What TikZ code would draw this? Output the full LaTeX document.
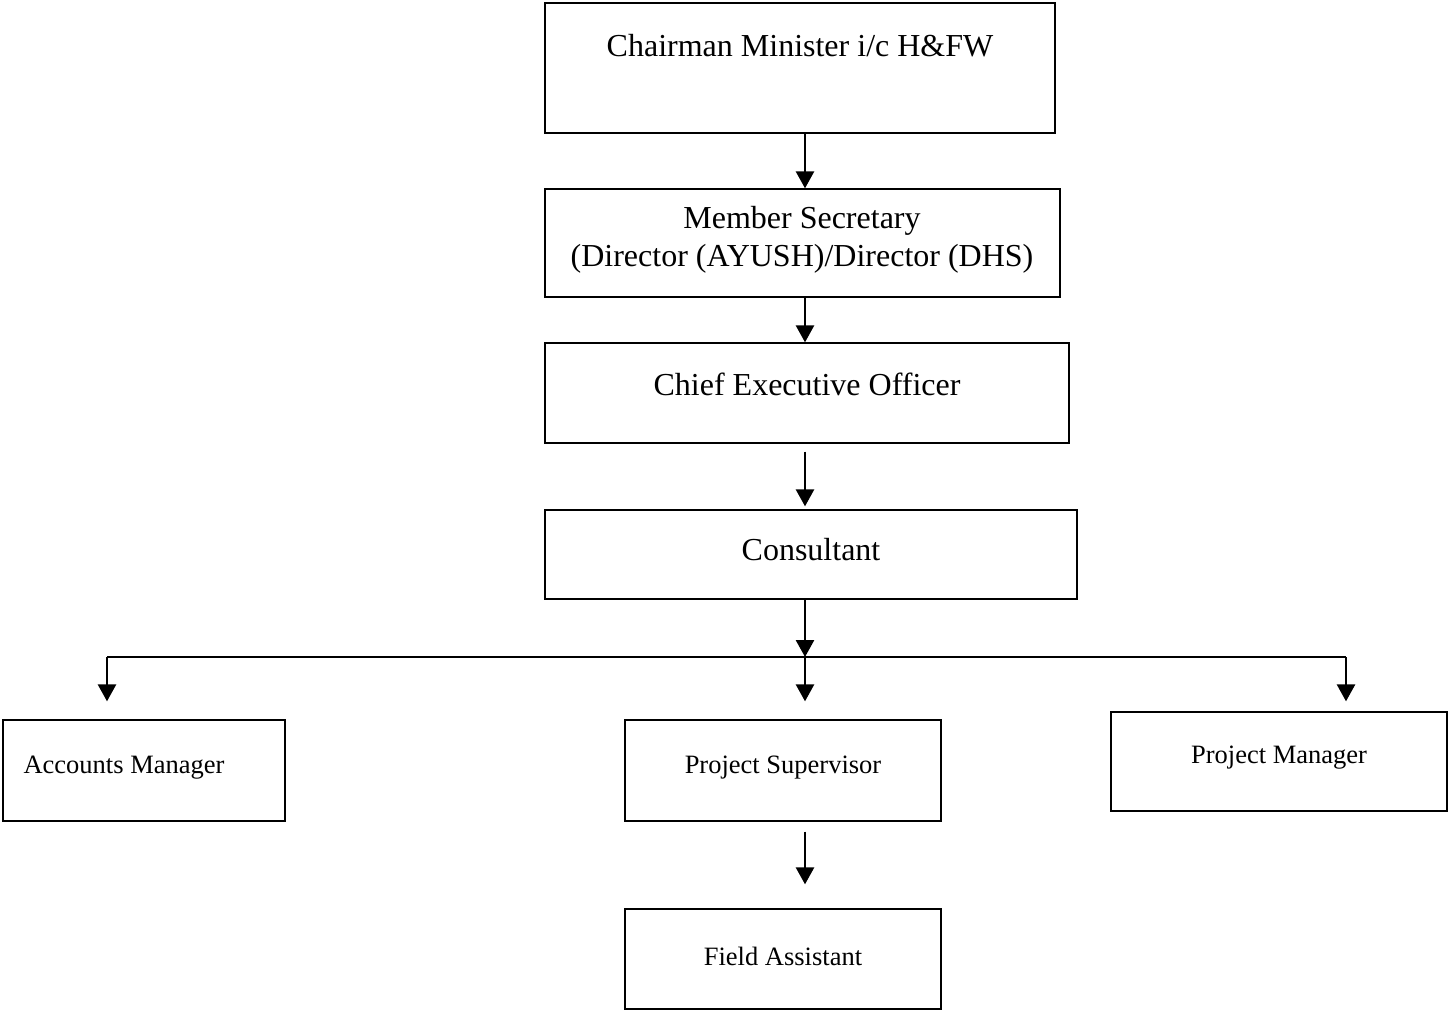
\documentclass[tikz,border=0pt]{standalone}
\usepackage{fontspec}
\setmainfont{Liberation Serif}
\usetikzlibrary{arrows.meta,positioning}

\tikzset{
  orgbox/.style={draw, line width=1.3pt, inner sep=0pt},
  bigtxt/.style={font=\fontsize{32}{38}\selectfont, align=center, inner sep=0pt},
  smalltxt/.style={font=\fontsize{26.5}{32}\selectfont, inner sep=0pt},
  link/.style={line width=2.7pt, -{Triangle[width=18pt,length=17pt]}}
}

\begin{document}
\begin{tikzpicture}[x=1pt,y=-1pt]
  \useasboundingbox (0,0) rectangle (1448,1011);

  % boxes
  \node[orgbox, minimum width=510pt, minimum height=130pt] (chair) at (800,68) {};
  \node[orgbox, minimum width=515pt, minimum height=108pt] (member) at (802.5,243) {};
  \node[orgbox, minimum width=524pt, minimum height=100pt] (ceo) at (807,393) {};
  \node[orgbox, minimum width=532pt, minimum height=89pt] (cons) at (811,554.5) {};
  \node[orgbox, minimum width=282pt, minimum height=101pt] (acct) at (144,770.5) {};
  \node[orgbox, minimum width=316pt, minimum height=101pt] (psup) at (783,770.5) {};
  \node[orgbox, minimum width=336pt, minimum height=99pt] (pman) at (1279,761.5) {};
  \node[orgbox, minimum width=316pt, minimum height=100pt] (field) at (783,959) {};

  % texts
  \node[bigtxt] (chairT) at (800,46) {Chairman Minister i/c H\&FW};
  \node[bigtxt] (memT) at (802,240) {Member Secretary\\(Director (AYUSH)/Director (DHS)};
  \node[bigtxt] (ceoT) at (807,384) {Chief Executive Officer};
  \node[bigtxt] (consT) at (811,550) {Consultant};
  \node[smalltxt] (acctT) at (124,768) {Accounts Manager};
  \node[smalltxt] (psupT) at (783,768) {Project Supervisor};
  \node[smalltxt] (pmanT) at (1279,758) {Project Manager};
  \node[smalltxt] (fieldT) at (783,956) {Field Assistant};

  % spine and bus
  \coordinate (spine) at (805,0);
  \coordinate (busL) at (107,657);
  \coordinate (busM) at (805,657);
  \coordinate (busR) at (1346,657);

  \draw[link] (chair.south -| spine) -- (member.north -| spine);
  \draw[link] (member.south -| spine) -- (ceo.north -| spine);
  \draw[link, shorten <=8pt, shorten >=3pt] (ceo.south -| spine) -- (cons.north -| spine);
  \draw[link] (cons.south -| spine) -- (busM);
  \draw[line width=2.4pt] (busL) -- (busR);
  \draw[link, shorten >=18pt] (busL) -- (busL |- acct.north);
  \draw[link, shorten >=18pt] (busM) -- (busM |- psup.north);
  \draw[link, shorten >=10pt] (busR) -- (busR |- pman.north);
  \draw[link, shorten <=10pt, shorten >=24pt] (psup.south -| spine) -- (field.north -| spine);
\end{tikzpicture}
\end{document}
